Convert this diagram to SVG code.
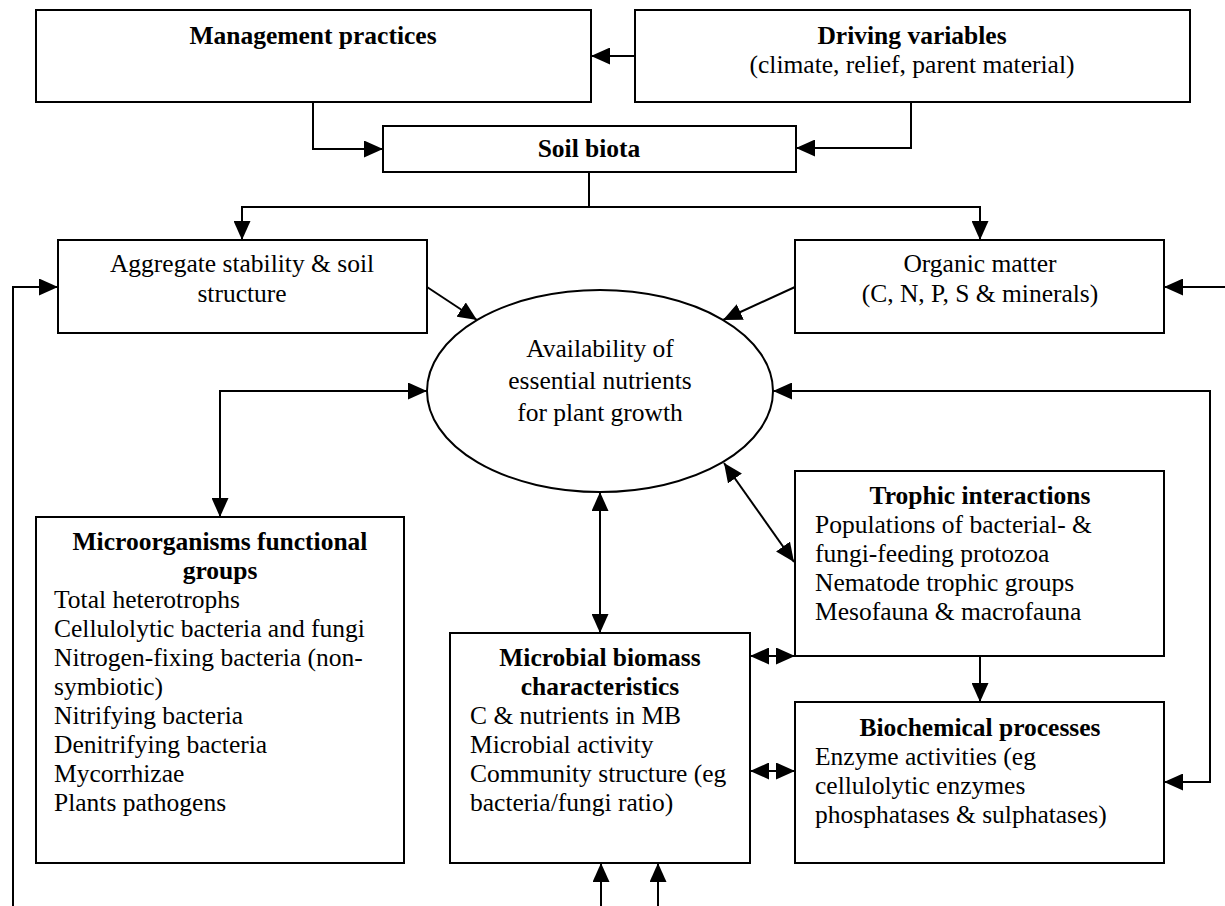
<svg xmlns="http://www.w3.org/2000/svg" width="1225" height="906" viewBox="0 0 1225 906">
<style>
.box{fill:#fff;stroke:#000;stroke-width:2}
.t{font-family:"Liberation Serif","Times New Roman",serif;font-size:25.5px;fill:#000}
.b{font-weight:bold}
.c{text-anchor:middle}
.ln{fill:none;stroke:#000;stroke-width:2}
.a{marker-end:url(#ah)}
.d{marker-start:url(#ah);marker-end:url(#ah)}
</style>
<defs>
<marker id="ah" markerUnits="userSpaceOnUse" markerWidth="19" markerHeight="17" viewBox="0 0 19 17" refX="19" refY="8.5" orient="auto-start-reverse">
<path d="M0,0 L19,8.5 L0,17 z" fill="#000"/>
</marker>
</defs>
<rect width="1225" height="906" fill="#fff"/>
<g id="management">
<rect class="box" x="36" y="10" width="555" height="92"/>
<text class="t b c" x="313" y="44">Management practices</text>
</g>
<g id="driving">
<rect class="box" x="635" y="10" width="555" height="92"/>
<text class="t b c" x="912" y="44">Driving variables</text>
<text class="t c" x="912" y="73">(climate, relief, parent material)</text>
</g>
<g id="soilbiota">
<rect class="box" x="383" y="126" width="413" height="46"/>
<text class="t b c" x="589" y="157">Soil biota</text>
</g>
<g id="aggregate">
<rect class="box" x="58" y="240" width="369" height="93"/>
<text class="t c" x="242" y="272">Aggregate stability &amp; soil</text>
<text class="t c" x="242" y="302">structure</text>
</g>
<g id="organic">
<rect class="box" x="795" y="240" width="369" height="93"/>
<text class="t c" x="980" y="272">Organic matter</text>
<text class="t c" x="980" y="302">(C, N, P, S &amp; minerals)</text>
</g>
<g id="availability">
<ellipse class="box" cx="600" cy="391" rx="173" ry="101"/>
<text class="t c" x="600" y="357">Availability of</text>
<text class="t c" x="600" y="389">essential nutrients</text>
<text class="t c" x="600" y="421">for plant growth</text>
</g>
<g id="microorganisms">
<rect class="box" x="36" y="517" width="368" height="346"/>
<text class="t b c" x="220" y="550">Microorganisms functional</text>
<text class="t b c" x="220" y="579">groups</text>
<text class="t" x="54" y="608">Total heterotrophs</text>
<text class="t" x="54" y="637">Cellulolytic bacteria and fungi</text>
<text class="t" x="54" y="666">Nitrogen-fixing bacteria (non-</text>
<text class="t" x="54" y="695">symbiotic)</text>
<text class="t" x="54" y="724">Nitrifying bacteria</text>
<text class="t" x="54" y="753">Denitrifying bacteria</text>
<text class="t" x="54" y="782">Mycorrhizae</text>
<text class="t" x="54" y="811">Plants pathogens</text>
</g>
<g id="microbial">
<rect class="box" x="450" y="633" width="300" height="230"/>
<text class="t b c" x="600" y="666">Microbial biomass</text>
<text class="t b c" x="600" y="695">characteristics</text>
<text class="t" x="470" y="724">C &amp; nutrients in MB</text>
<text class="t" x="470" y="753">Microbial activity</text>
<text class="t" x="470" y="782">Community structure (eg</text>
<text class="t" x="470" y="811">bacteria/fungi ratio)</text>
</g>
<g id="trophic">
<rect class="box" x="795" y="471" width="369" height="185"/>
<text class="t b c" x="980" y="504">Trophic interactions</text>
<text class="t" x="815" y="533">Populations of bacterial- &amp;</text>
<text class="t" x="815" y="562">fungi-feeding protozoa</text>
<text class="t" x="815" y="591">Nematode trophic groups</text>
<text class="t" x="815" y="620">Mesofauna &amp; macrofauna</text>
</g>
<g id="biochemical">
<rect class="box" x="795" y="702" width="369" height="161"/>
<text class="t b c" x="980" y="736">Biochemical processes</text>
<text class="t" x="815" y="765">Enzyme activities (eg</text>
<text class="t" x="815" y="794">cellulolytic enzymes</text>
<text class="t" x="815" y="823">phosphatases &amp; sulphatases)</text>
</g>
<g id="connectors">
<path class="ln a" d="M635,56 H591"/>
<path class="ln a" d="M313,102 V149 H383"/>
<path class="ln a" d="M911,102 V148 H796"/>
<path class="ln" d="M589,172 V207"/>
<path class="ln a" d="M589,207 H242 V240"/>
<path class="ln a" d="M589,207 H980 V240"/>
<path class="ln a" d="M13,906 V287 H58"/>
<path class="ln a" d="M1225,287 H1164"/>
<path class="ln a" d="M427,287 L477,320"/>
<path class="ln a" d="M795,287 L723,320"/>
<path class="ln d" d="M427,391 H220 V517"/>
<path class="ln d" d="M773,391 H1210 V782 H1164"/>
<path class="ln d" d="M724,463 L794,562"/>
<path class="ln d" d="M600,492 V633"/>
<path class="ln d" d="M750,656 H795"/>
<path class="ln d" d="M750,771 H795"/>
<path class="ln a" d="M980,656 V702"/>
<path class="ln a" d="M601,906 V863"/>
<path class="ln a" d="M658,906 V863"/>
</g>
</svg>
